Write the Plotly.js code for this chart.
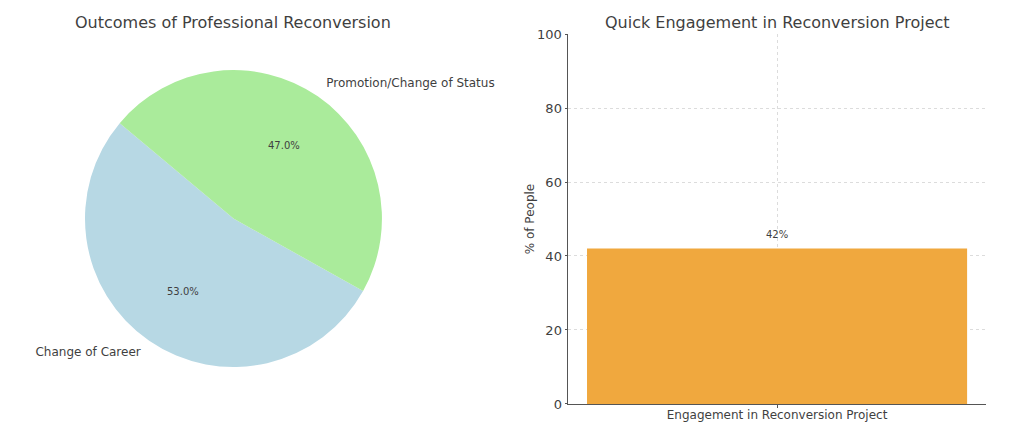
<!DOCTYPE html>
<html><head><meta charset="utf-8">
<script src="https://cdn.plot.ly/plotly-3.0.1.min.js"></script>
<style>html,body{margin:0;padding:0;background:#fff}#c{width:1024px;height:436px}</style>
</head><body><div id="c"></div>
<script>
var pieLabels = ["Change of Career", "Promotion/Change of Status"];
var pieValues = [53, 47];
var pieColors = ["#B7D8E4", "#AAEB9B"];
var barCategories = ["Engagement in Reconversion Project"];
var barValues = [42];
var yTicks = [0, 20, 40, 60, 80, 100];

var FONT = "DejaVu Sans, sans-serif";
var TXT = "#3f3f3f";
var pieDomX = [0.083, 0.373], pieDomY = [0.158, 0.8394];

// matplotlib-style: start angle 140 deg, counter-clockwise
var total = pieValues.reduce(function(a, b){ return a + b; }, 0);
var startMath = 140;
var endFirst = startMath + 360 * pieValues[0] / total;
var rot = 90 - endFirst; // same wedges drawn clockwise by plotly

// label positions in pie-radius units, from the slice mid-angles
var mids = [], acc = startMath;
pieValues.forEach(function(v){
  var span = 360 * v / total;
  mids.push((acc + span / 2) * Math.PI / 180);
  acc += span;
});
var pctX = mids.map(function(a){ return 0.6 * Math.cos(a); });
var pctY = mids.map(function(a){ return 0.6 * Math.sin(a); });
var labX = mids.map(function(a){ return 1.1 * Math.cos(a); });
var labY = mids.map(function(a){ return 1.1 * Math.sin(a); });
var labPos = mids.map(function(a){ return Math.cos(a) < 0 ? "middle left" : "middle right"; });
var pctText = pieValues.map(function(v){ return (100 * v / total).toFixed(1) + "%"; });

var traces = [
  {
    type: "pie", labels: pieLabels, values: pieValues, sort: false,
    direction: "clockwise", rotation: rot,
    marker: {colors: pieColors, line: {width: 0}},
    textinfo: "none",
    domain: {x: pieDomX, y: pieDomY}, showlegend: false, hoverinfo: "label+percent"
  },
  {
    type: "scatter", mode: "text", x: labX, y: labY, text: pieLabels,
    textposition: labPos,
    textfont: {family: FONT, size: 12, color: TXT},
    xaxis: "x2", yaxis: "y2", showlegend: false, hoverinfo: "skip", cliponaxis: false
  },
  {
    type: "bar", x: barCategories, y: barValues, width: 0.8,
    marker: {color: "#F0A83E", line: {width: 0}},
    xaxis: "x", yaxis: "y", showlegend: false, hoverinfo: "x+y"
  },
  {
    type: "scatter", mode: "text", x: barCategories,
    y: barValues.map(function(v){ return v + 3.6; }),
    text: barValues.map(function(v){ return v + "%"; }),
    textfont: {family: FONT, size: 10, color: TXT},
    xaxis: "x", yaxis: "y", showlegend: false, hoverinfo: "skip"
  }
];

var hidden = {visible: false, showgrid: false, zeroline: false, fixedrange: true};

var annotations = [
  {text: "Outcomes of Professional Reconversion", xref: "paper", yref: "paper",
   x: 0.2275, y: 0.949, xanchor: "center", yanchor: "middle", showarrow: false,
   font: {family: FONT, size: 16, color: TXT}},
  {text: "Quick Engagement in Reconversion Project", xref: "paper", yref: "paper",
   x: 0.7588, y: 0.949, xanchor: "center", yanchor: "middle", showarrow: false,
   font: {family: FONT, size: 16, color: TXT}}
];
pctText.forEach(function(t, i){
  annotations.push({text: t, xref: "x2", yref: "y2", x: pctX[i], y: pctY[i],
    xanchor: "center", yanchor: "middle", showarrow: false,
    font: {family: FONT, size: 10, color: TXT}});
});

var layout = {
  width: 1024, height: 436,
  margin: {l: 0, r: 0, t: 0, b: 0},
  paper_bgcolor: "#fff", plot_bgcolor: "rgba(0,0,0,0)",
  font: {family: FONT, color: TXT},
  showlegend: false,
  xaxis2: Object.assign({domain: pieDomX, range: [-1, 1], anchor: "y2"}, hidden),
  yaxis2: Object.assign({domain: pieDomY, range: [-1, 1], anchor: "x2"}, hidden),
  xaxis: {
    domain: [0.5547, 0.963], range: [-0.44, 0.44], type: "category", anchor: "y",
    showgrid: true, gridcolor: "#dcdcdc", griddash: "dot", gridwidth: 1,
    showline: true, linecolor: "#555", linewidth: 1.5,
    ticks: "outside", ticklen: 3, tickcolor: "#555",
    tickfont: {family: FONT, size: 12, color: TXT}, ticklabelstandoff: -4,
    zeroline: false, fixedrange: true
  },
  yaxis: {
    domain: [0.0734, 0.922], range: [0, 100], anchor: "x",
    tickvals: yTicks, ticktext: yTicks.map(String),
    showgrid: true, gridcolor: "#dcdcdc", griddash: "dot", gridwidth: 1,
    showline: true, linecolor: "#555", linewidth: 1.5,
    ticks: "outside", ticklen: 2, tickcolor: "#555",
    tickfont: {family: FONT, size: 13, color: TXT},
    title: {text: "% of People", font: {family: FONT, size: 12, color: TXT}, standoff: 0},
    zeroline: false, fixedrange: true
  },
  annotations: annotations
};

Plotly.newPlot("c", traces, layout, {staticPlot: true, displayModeBar: false});
</script></body></html>
